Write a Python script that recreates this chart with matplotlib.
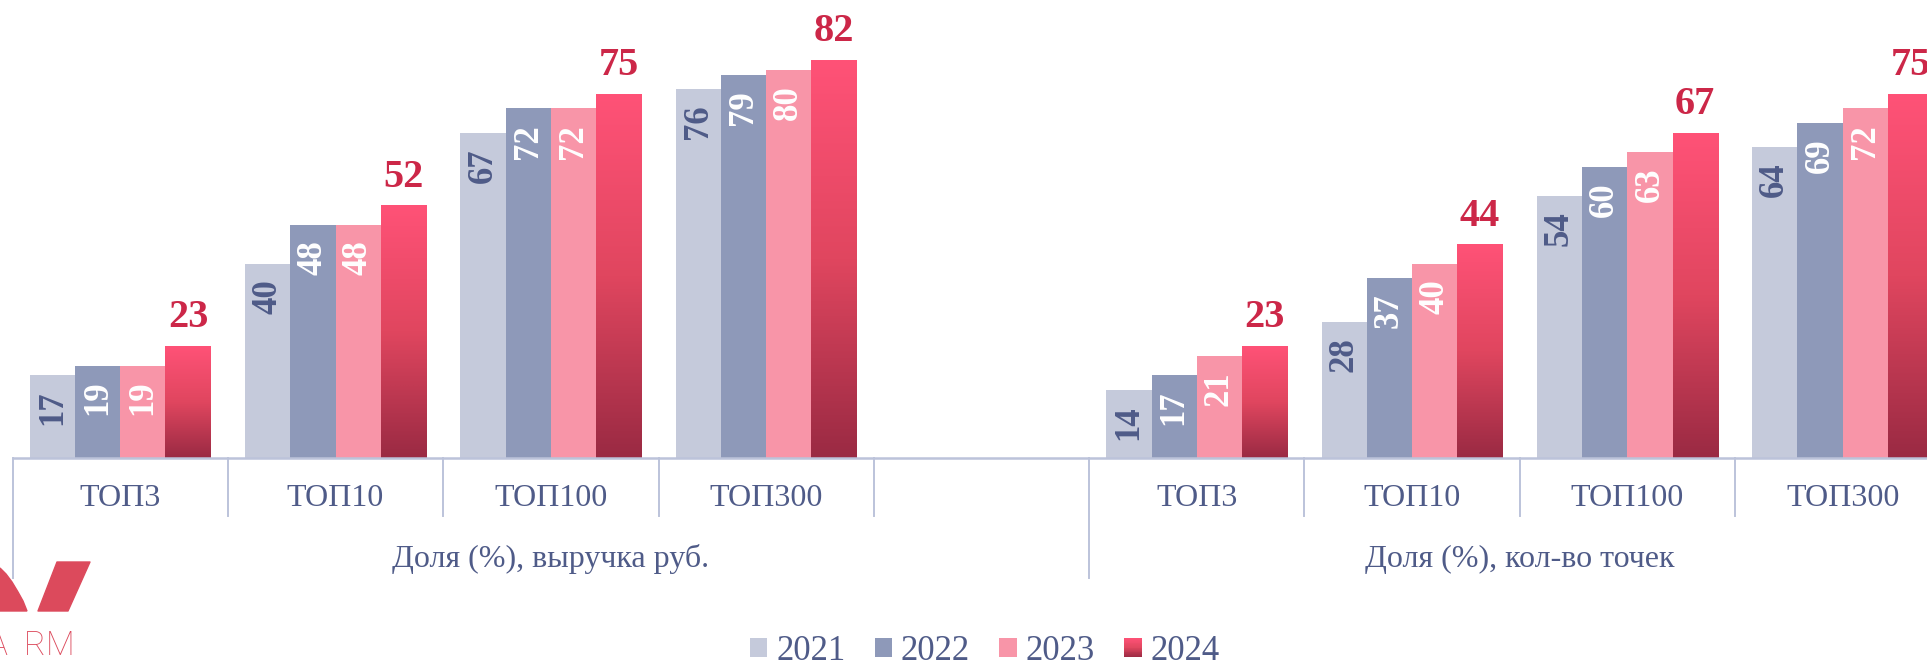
import numpy as np
import matplotlib
matplotlib.use("Agg")
import matplotlib.pyplot as plt
from matplotlib.colors import LinearSegmentedColormap
from matplotlib.patches import Rectangle, Polygon
from matplotlib.legend_handler import HandlerBase

# ---------------- data ----------------
categories = ['ТОП3', 'ТОП10', 'ТОП100', 'ТОП300']
group_labels = ['Доля (%), выручка руб.', 'Доля (%), кол-во точек']
years = ['2021', '2022', '2023', '2024']

revenue_2021 = [17, 40, 67, 76]
revenue_2022 = [19, 48, 72, 79]
revenue_2023 = [19, 48, 72, 80]
revenue_2024 = [23, 52, 75, 82]

points_2021 = [14, 28, 54, 64]
points_2022 = [17, 37, 60, 69]
points_2023 = [21, 40, 63, 72]
points_2024 = [23, 44, 67, 75]

# ---------------- style ----------------
W, H = 1927, 666
C2021 = '#c5cadb'
C2022 = '#8e99b9'
C2023 = '#f895a8'
GRAD_TOP = '#ff5277'
GRAD_MID = '#e0465f'
GRAD_BOT = '#9a2a43'
TXT = '#4f5b88'
LBL24 = '#cc2748'
AXC = '#bcc3da'
LOGO = '#dc4a5c'
grad_cmap = LinearSegmentedColormap.from_list('g24', [GRAD_BOT, GRAD_MID, GRAD_TOP])

SERIF = ['Liberation Serif', 'DejaVu Serif']

fig = plt.figure(figsize=(W / 100, H / 100), dpi=100)
ax = fig.add_axes([0, 0, 1, 1])
ax.axis('off')

slot_px = 215.3
left_px = 12.6
base_px = 457.7
unit_px = 4.85
xlim = (-0.5 - left_px / slot_px, -0.5 + (W - left_px) / slot_px)
ylim = (-(H - base_px) / unit_px, base_px / unit_px)


def py(ytop):
    return -(ytop - base_px) / unit_px


left_slots = np.arange(4)
right_slots = np.arange(5, 9)
bw = 0.21
offsets = (np.arange(4) - 1.5) * bw

series = [
    (revenue_2021, points_2021, C2021),
    (revenue_2022, points_2022, C2022),
    (revenue_2023, points_2023, C2023),
    (revenue_2024, points_2024, None),
]

inner_colors = [TXT, 'white', 'white']

for i, (rv, pt, col) in enumerate(series):
    xs = np.concatenate([left_slots, right_slots]) + offsets[i]
    vals = list(rv) + list(pt)
    if col is not None:
        bars = ax.bar(xs, vals, width=bw, color=col, linewidth=0, zorder=2)
        for b, v in zip(bars, vals):
            ax.annotate(str(v), (b.get_x() + b.get_width() / 2, b.get_height()),
                        xytext=(0, -11), textcoords='offset points',
                        rotation=90, rotation_mode='anchor', ha='right', va='center',
                        fontsize=25, fontweight='bold', family=SERIF,
                        color=inner_colors[i], zorder=4)
    else:
        bars = ax.bar(xs, vals, width=bw, color='none', linewidth=0, zorder=2)
        grad = np.linspace(0, 1, 256).reshape(-1, 1)
        for b, v in zip(bars, vals):
            x0 = b.get_x()
            ax.imshow(grad, extent=[x0, x0 + b.get_width(), 0, b.get_height()],
                      origin='lower', cmap=grad_cmap, aspect='auto', zorder=3,
                      interpolation='bilinear')
            ax.annotate(str(v), (x0 + b.get_width() / 2, b.get_height()),
                        xytext=(0, 13.5), textcoords='offset points',
                        ha='center', va='baseline', fontsize=29, fontweight='bold',
                        family=SERIF, color=LBL24, zorder=4)

ax.set_xlim(*xlim)
ax.set_ylim(*ylim)

# axis line and separators
ax.plot([-0.5, xlim[1] + 1], [0, 0], color=AXC, lw=1.8, zorder=5, solid_capstyle='butt')
short_y = py(516)
long_y = py(578)
for xb in [0.5, 1.5, 2.5, 3.5, 5.5, 6.5, 7.5, 8.5]:
    ax.plot([xb, xb], [0, short_y], color=AXC, lw=1.4, zorder=1)
for xb in [-0.5, 4.5]:
    ax.plot([xb, xb], [0, long_y], color=AXC, lw=1.4, zorder=1)

# tick labels
for s, c in zip(left_slots, categories):
    ax.text(s, py(499), c, ha='center', va='center', fontsize=23, family=SERIF, color=TXT)
for s, c in zip(right_slots, categories):
    ax.text(s, py(499), c, ha='center', va='center', fontsize=23, family=SERIF, color=TXT)

# group labels
ax.text(2.0, py(559), group_labels[0], ha='center', va='center', fontsize=23, family=SERIF, color=TXT)
ax.text(6.5, py(559), group_labels[1], ha='center', va='center', fontsize=23, family=SERIF, color=TXT)


# legend
class GradHandler(HandlerBase):
    def create_artists(self, legend, orig_handle, xdescent, ydescent, width, height, fontsize, trans):
        n = 24
        arts = []
        for k in range(n):
            r = Rectangle((-xdescent, -ydescent + k * height / n), width, height / n + 0.05,
                          facecolor=grad_cmap(k / (n - 1)), edgecolor='none', transform=trans)
            arts.append(r)
        return arts


handles = [Rectangle((0, 0), 1, 1, facecolor=C2021, edgecolor='none'),
           Rectangle((0, 0), 1, 1, facecolor=C2022, edgecolor='none'),
           Rectangle((0, 0), 1, 1, facecolor=C2023, edgecolor='none'),
           Rectangle((0, 0), 1, 1, facecolor=GRAD_TOP, edgecolor='none')]
leg = fig.legend(handles, years, loc='center', bbox_to_anchor=(0.511, 0.022), ncol=4,
                 frameon=False, prop={'family': SERIF, 'size': 25},
                 handlelength=0.5, handleheight=0.5, handletextpad=0.25,
                 columnspacing=0.85, borderpad=0, borderaxespad=0,
                 handler_map={handles[3]: GradHandler()})
for t in leg.get_texts():
    t.set_color(TXT)


# logo (partially cropped at the left edge, as in the source)
def fp(x, ytop):
    return (x / W, 1 - ytop / H)


para = Polygon([fp(57, 562), fp(90, 562), fp(68, 611), fp(38, 611)], closed=True,
               transform=fig.transFigure, facecolor=LOGO, edgecolor=LOGO, lw=1, joinstyle='round')
fig.patches.append(para)
blob = Polygon([fp(0, 568), fp(6, 574), fp(12, 582), fp(18, 592), fp(23, 601), fp(27, 611), fp(0, 611)],
               closed=True, transform=fig.transFigure, facecolor=LOGO, edgecolor=LOGO, lw=1)
fig.patches.append(blob)
for letter, xl in [('A', -13), ('R', 24), ('M', 46)]:
    fig.text(*fp(xl, 655), letter, ha='left', va='baseline', fontsize=24,
             family=['Roboto', 'DejaVu Sans'], fontweight='light', color=LOGO)

fig.savefig('out.png', dpi=100)
